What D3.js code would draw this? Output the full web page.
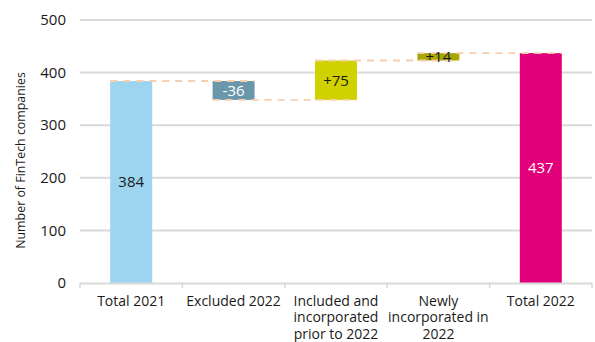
<!DOCTYPE html>
<html>
<head>
<meta charset="utf-8">
<script src="https://cdn.jsdelivr.net/npm/d3@7"></script>
<style>
  html, body { margin: 0; padding: 0; background: #fff; }
  svg { display: block; font-family: "Open Sans", "Noto Sans", sans-serif; }
</style>
</head>
<body>
<svg id="chart" width="595" height="342"></svg>
<script>
// Waterfall of FinTech company counts, 2021 -> 2022
const categories = [
  ["Total 2021"],
  ["Excluded 2022"],
  ["Included and", "incorporated", "prior to 2022"],
  ["Newly", "incorporated in", "2022"],
  ["Total 2022"]
];
const steps = [384, -36, 75, 14, 437];
const kinds = ["total", "delta", "delta", "delta", "total"];
const labels = ["384", "-36", "+75", "+14", "437"];
const fills = ["#9dd4ef", "#6b97ac", "#d0d200", "#a8a700", "#e2007a"];
const labelColors = ["#1a1a1a", "#ffffff", "#1a1a1a", "#1a1a1a", "#ffffff"];
const yTicks = [0, 100, 200, 300, 400, 500];
const yTitle = "Number of FinTech companies";

const svg = d3.select("#chart");
const margin = { left: 80, right: 3, top: 20, bottom: 59 };
const W = 595, H = 342;

const x = d3.scaleBand()
  .domain(d3.range(categories.length))
  .range([margin.left, W - margin.right])
  .paddingInner(0.59)
  .paddingOuter(0.295);

const y = d3.scaleLinear().domain([0, 500]).range([H - margin.bottom, margin.top]);

// running totals -> bar extents
let run = 0;
const bars = steps.map((v, i) => {
  let lo, hi, end;
  if (kinds[i] === "total") { lo = 0; hi = v; end = v; }
  else { const start = run; end = run + v; lo = Math.min(start, end); hi = Math.max(start, end); }
  run = end;
  return { i, lo, hi, end };
});

// gridlines
svg.append("g").selectAll("line").data(yTicks.filter(d => d > 0)).join("line")
  .attr("x1", margin.left).attr("x2", W - margin.right)
  .attr("y1", d => y(d)).attr("y2", d => y(d))
  .attr("stroke", "#d9d9d9").attr("stroke-width", 2);

// y tick labels
svg.append("g").selectAll("text").data(yTicks).join("text")
  .attr("x", 66).attr("y", d => y(d)).attr("dy", "0.35em")
  .attr("text-anchor", "end").attr("font-size", 15).attr("fill", "#1a1a1a")
  .text(d => d);

// y title
svg.append("text")
  .attr("transform", `translate(25,${(y(0) + y(500)) / 2 + 9}) rotate(-90)`)
  .attr("text-anchor", "middle").attr("font-size", 12.4).attr("fill", "#1a1a1a")
  .text(yTitle);

// bars
svg.append("g").selectAll("rect").data(bars).join("rect")
  .attr("x", d => x(d.i)).attr("width", x.bandwidth())
  .attr("y", d => y(d.hi)).attr("height", d => y(d.lo) - y(d.hi))
  .attr("fill", d => fills[d.i]);

// dashed connectors between consecutive bar levels
const conn = bars.slice(0, -1).map((d, k) => ({ from: k, to: k + 1, v: d.end }));
svg.append("g").selectAll("line").data(conn).join("line")
  .attr("x1", d => x(d.from)).attr("x2", d => x(d.to) + x.bandwidth())
  .attr("y1", d => y(d.v)).attr("y2", d => y(d.v))
  .attr("stroke", "#f7cfae").attr("stroke-width", 1.8)
  .attr("stroke-dasharray", "7,6");

// value labels
svg.append("g").selectAll("text").data(bars).join("text")
  .attr("x", d => x(d.i) + x.bandwidth() / 2)
  .attr("y", d => (y(d.lo) + y(d.hi)) / 2).attr("dy", "0.36em")
  .attr("text-anchor", "middle").attr("font-size", 15)
  .attr("fill", d => labelColors[d.i])
  .text(d => labels[d.i]);

// x axis line and ticks at band boundaries
const step = x.step();
const x0 = margin.left;
svg.append("line")
  .attr("x1", x0).attr("x2", W - margin.right)
  .attr("y1", y(0) + 0.5).attr("y2", y(0) + 0.5)
  .attr("stroke", "#d9d9d9").attr("stroke-width", 2);
svg.append("g").selectAll("line").data(d3.range(categories.length + 1)).join("line")
  .attr("x1", k => x0 + k * step).attr("x2", k => x0 + k * step)
  .attr("y1", y(0)).attr("y2", y(0) + 5)
  .attr("stroke", "#d9d9d9").attr("stroke-width", 1.5);

// category labels
const cat = svg.append("g").selectAll("text").data(categories).join("text")
  .attr("x", (d, i) => x(i) + x.bandwidth() / 2)
  .attr("y", y(0) + 22.5)
  .attr("text-anchor", "middle").attr("font-size", 14).attr("fill", "#1a1a1a");
cat.selectAll("tspan").data(d => d).join("tspan")
  .attr("x", function () { return this.parentNode.getAttribute("x"); })
  .attr("dy", (d, j) => j === 0 ? 0 : 16.5)
  .text(d => d);
</script>
</body>
</html>
